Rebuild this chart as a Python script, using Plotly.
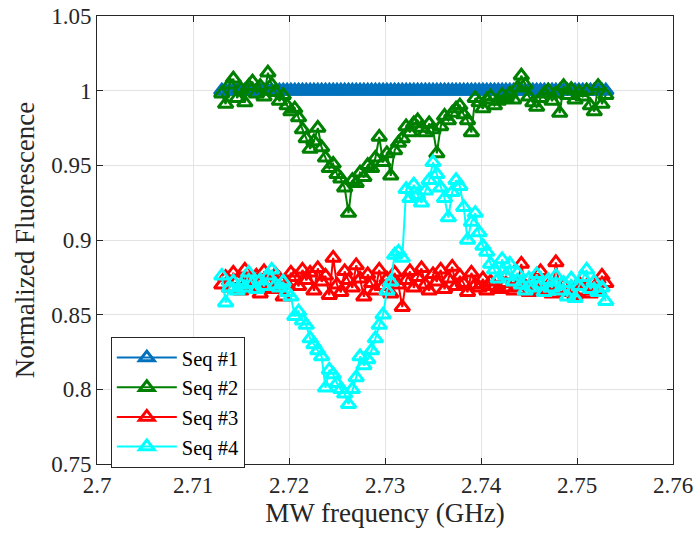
import numpy as np
import plotly.graph_objects as go

# MW frequency sweep (GHz): 101 points, 2.713 .. 2.753
freq = np.linspace(2.713, 2.753, 101)

seq1 = [1.000, 1.000, 1.000, 1.000, 1.000, 1.000, 1.000, 1.000, 1.000, 1.000,
        1.000, 1.000, 1.000, 1.000, 1.000, 1.000, 1.000, 1.000, 1.000, 1.000,
        1.000, 1.000, 1.000, 1.000, 1.000, 1.000, 1.000, 1.000, 1.000, 1.000,
        1.000, 1.000, 1.000, 1.000, 1.000, 1.000, 1.000, 1.000, 1.000, 1.000,
        1.000, 1.000, 1.000, 1.000, 1.000, 1.000, 1.000, 1.000, 1.000, 1.000,
        1.000, 1.000, 1.000, 1.000, 1.000, 1.000, 1.000, 1.000, 1.000, 1.000,
        1.000, 1.000, 1.000, 1.000, 1.000, 1.000, 1.000, 1.000, 1.000, 1.000,
        1.000, 1.000, 1.000, 1.000, 1.000, 1.000, 1.000, 1.000, 1.000, 1.000,
        1.000, 1.000, 1.000, 1.000, 1.000, 1.000, 1.000, 1.000, 1.000, 1.000,
        1.000, 1.000, 1.000, 1.000, 1.000, 1.000, 1.000, 1.000, 1.000, 1.000,
        1.000]

seq2 = [0.998, 0.991, 1.004, 1.008, 0.995, 1.001, 0.992, 1.003, 1.006, 0.998,
        1.003, 0.996, 1.012, 1.004, 0.999, 0.993, 0.997, 0.990, 0.986, 0.988,
        0.982, 0.974, 0.968, 0.961, 0.966, 0.975, 0.962, 0.955, 0.948, 0.951,
        0.944, 0.941, 0.935, 0.918, 0.940, 0.938, 0.945, 0.942, 0.950, 0.948,
        0.955, 0.969, 0.952, 0.958, 0.943, 0.960, 0.965, 0.968, 0.976, 0.972,
        0.978, 0.980, 0.975, 0.972, 0.978, 0.974, 0.958, 0.976, 0.983, 0.980,
        0.985, 0.988, 0.990, 0.984, 0.980, 0.972, 0.995, 0.992, 0.988, 0.994,
        0.996, 0.990, 0.993, 0.997, 0.995, 0.998, 0.994, 1.002, 1.010, 1.004,
        0.996, 0.992, 0.989, 0.995, 0.998, 1.000, 0.993, 0.998, 0.985, 1.003,
        0.997, 1.001, 0.994, 0.999, 0.996, 1.000, 0.990, 0.986, 1.003, 0.991,
        0.997]

seq3 = [0.870, 0.875, 0.868, 0.878, 0.873, 0.866, 0.880, 0.872, 0.869, 0.876,
        0.864, 0.879, 0.871, 0.867, 0.877, 0.874, 0.862, 0.870, 0.878, 0.875,
        0.869, 0.880, 0.873, 0.878, 0.866, 0.881, 0.872, 0.876, 0.863, 0.888,
        0.870, 0.865, 0.879, 0.873, 0.868, 0.883, 0.874, 0.862, 0.877, 0.871,
        0.866, 0.880, 0.869, 0.874, 0.864, 0.878, 0.870, 0.855, 0.873, 0.879,
        0.868, 0.875, 0.881, 0.870, 0.866, 0.877, 0.872, 0.880, 0.867, 0.874,
        0.882, 0.869, 0.876, 0.871, 0.865, 0.878, 0.870, 0.868, 0.874, 0.866,
        0.872, 0.869, 0.867, 0.871, 0.876, 0.868, 0.866, 0.870, 0.884, 0.869,
        0.865, 0.872, 0.867, 0.879, 0.866, 0.869, 0.864, 0.885, 0.867, 0.870,
        0.865, 0.868, 0.863, 0.871, 0.866, 0.869, 0.864, 0.868, 0.866, 0.876,
        0.871]

seq4 = [0.876, 0.858, 0.868, 0.872, 0.866, 0.870, 0.868, 0.878, 0.871, 0.867,
        0.873, 0.869, 0.876, 0.880, 0.870, 0.868, 0.872, 0.865, 0.862, 0.849,
        0.852, 0.846, 0.843, 0.834, 0.830, 0.826, 0.822, 0.801, 0.813, 0.810,
        0.804, 0.800, 0.797, 0.790, 0.800, 0.808, 0.822, 0.816, 0.820, 0.826,
        0.834, 0.843, 0.850, 0.866, 0.872, 0.890, 0.892, 0.888, 0.934, 0.928,
        0.937, 0.930, 0.925, 0.933, 0.940, 0.952, 0.944, 0.935, 0.928, 0.915,
        0.932, 0.940, 0.936, 0.922, 0.900, 0.912, 0.918, 0.905, 0.896, 0.892,
        0.884, 0.880, 0.874, 0.887, 0.876, 0.884, 0.872, 0.878, 0.870, 0.866,
        0.874, 0.868, 0.877, 0.870, 0.865, 0.873, 0.868, 0.876, 0.866, 0.871,
        0.862, 0.874, 0.861, 0.869, 0.875, 0.880, 0.867, 0.872, 0.865, 0.868,
        0.859]

names = ["Seq #1", "Seq #2", "Seq #3", "Seq #4"]
colors = ["#0072BD", "#008000", "#FF0000", "#00FFFF"]
series = [seq1, seq2, seq3, seq4]

x_ticks = [2.70, 2.71, 2.72, 2.73, 2.74, 2.75, 2.76]
x_tick_text = ["2.7", "2.71", "2.72", "2.73", "2.74", "2.75", "2.76"]
y_ticks = [0.75, 0.80, 0.85, 0.90, 0.95, 1.00, 1.05]
y_tick_text = ["0.75", "0.8", "0.85", "0.9", "0.95", "1", "1.05"]

fig = go.Figure()
for name, col, ys in zip(names, colors, series):
    fig.add_trace(go.Scatter(
        x=freq, y=ys, name=name, mode="lines+markers",
        line=dict(color=col, width=2),
        marker=dict(symbol="triangle-up-open", size=13, color=col,
                    line=dict(width=3, color=col)),
    ))

font_family = "Liberation Serif"
axis_common = dict(
    showline=True, linecolor="#262626", linewidth=1, mirror="ticks",
    ticks="inside", ticklen=6, tickcolor="#262626",
    showgrid=True, gridcolor="#E3E3E3", gridwidth=1, zeroline=False,
    automargin=False,
    tickfont=dict(family=font_family, size=23, color="#262626"),
)

fig.update_layout(
    width=699, height=539,
    margin=dict(l=97, r=26, t=16, b=75),
    paper_bgcolor="white", plot_bgcolor="white",
    font=dict(family=font_family, color="#262626"),
    showlegend=True,
    legend=dict(x=0.024, y=0.284, xanchor="left", yanchor="top",
                bgcolor="white", bordercolor="#262626", borderwidth=1,
                font=dict(family=font_family, size=20.5, color="#000000"),
                tracegroupgap=0, itemwidth=60),
    xaxis=dict(range=[2.70, 2.76], tickvals=x_ticks, ticktext=x_tick_text,
               title=dict(text="MW frequency (GHz)", standoff=6,
                          font=dict(family=font_family, size=27, color="#262626")),
               **axis_common),
    yaxis=dict(range=[0.75, 1.05], tickvals=y_ticks, ticktext=y_tick_text,
               title=dict(text="Normalized Fluorescence", standoff=8,
                          font=dict(family=font_family, size=27, color="#262626")),
               **axis_common),
)

fig.write_html("out.html",
               config={"displayModeBar": False},
               post_script="document.body.style.margin='0';document.body.style.padding='0';")
